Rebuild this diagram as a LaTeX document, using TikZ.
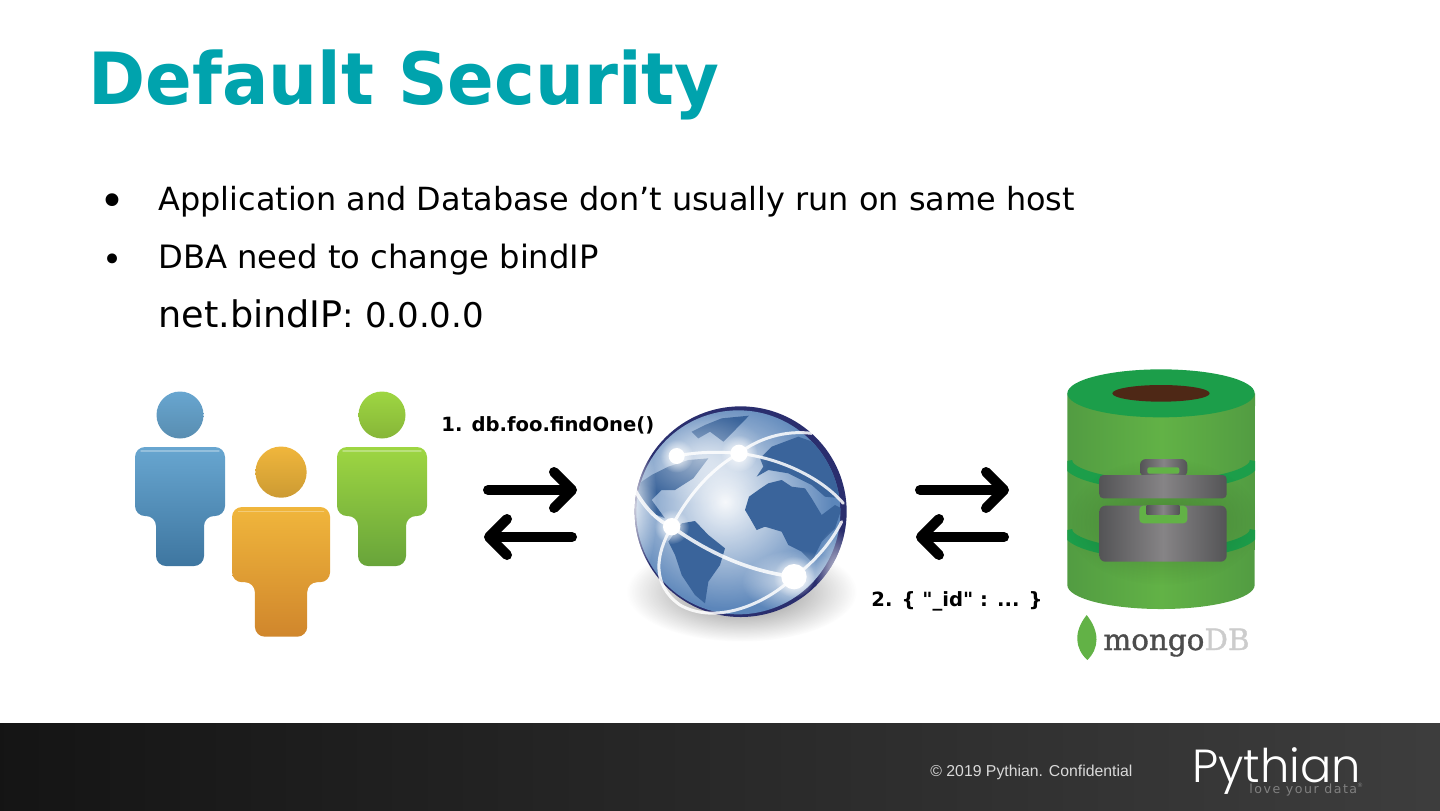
\documentclass[tikz,border=0pt]{standalone}
\usepackage{fontspec}
\usepackage{xcolor}
\setmainfont{DejaVu Sans}
\newfontfamily\titlefont[FakeStretch=0.956]{DejaVu Sans Bold}
\newfontfamily\labelfont{DejaVu Sans Bold}
\newfontfamily\footfont{Liberation Sans}
\newfontfamily\logofont{Poppins Light}
\newfontfamily\logosub[LetterSpace=12]{DejaVu Sans}
\newfontfamily\mongofont[FakeBold=1.2]{DejaVu Serif}
\usetikzlibrary{arrows.meta, fadings}
\definecolor{teal}{RGB}{0,163,173}
\definecolor{navy}{RGB}{42,46,110}
\definecolor{landblue}{RGB}{58,100,155}
\definecolor{seablue}{RGB}{92,134,186}
\definecolor{dbgreen}{RGB}{98,178,70}
\definecolor{dbdark}{RGB}{82,156,66}
\definecolor{ringgreen}{RGB}{28,158,74}
\definecolor{holebrown}{RGB}{78,40,22}
\definecolor{casegray}{RGB}{134,132,134}
\definecolor{casedark}{RGB}{84,84,86}
\definecolor{blueA}{RGB}{104,166,208}
\definecolor{blueB}{RGB}{62,118,160}
\definecolor{orangeA}{RGB}{240,182,60}
\definecolor{orangeB}{RGB}{208,134,44}
\definecolor{greenA}{RGB}{158,214,66}
\definecolor{greenB}{RGB}{104,164,58}
\tikzfading[name=glowfade, inner color=transparent!0, outer color=transparent!100]
\begin{document}
\begin{tikzpicture}[x=0.5pt, y=-0.5pt]
\tikzstyle{slidetext} = [inner sep=0 pt, anchor=base west]
\tikzstyle{heading} = [slidetext, text=teal, font=\titlefont\fontsize{36}{40}\selectfont]
\tikzstyle{bodytext} = [slidetext, font=\fontsize{16}{20}\selectfont]
\tikzstyle{steplabel} = [slidetext, font=\labelfont\fontsize{9.8}{12}\selectfont]
\tikzstyle{bigarrow} = [line width=5 pt, line cap=round, -{Straight Barb[length=9pt, width=18pt, round]}]
\tikzstyle{arcline} = [white, opacity=0.85, line width=1.5 pt, line cap=round]
\tikzstyle{glow} = [white, path fading=glowfade]
\useasboundingbox (0,0) rectangle (1440,810);

\node (title) [heading] at (88,104) {Default Security};
\node (bulletA) [slidetext, anchor=center, font=\fontsize{22}{24}\selectfont] at (112,205) {•};
\node (bulletB) [slidetext, anchor=center, font=\fontsize{17}{20}\selectfont] at (113,263) {•};
\node (lineA) [bodytext, font=\fontsize{15.95}{20}\selectfont] at (158,210) {Application and Database don’t usually run on same host};
\node (lineB) [bodytext, font=\fontsize{16.1}{20}\selectfont] at (158,268) {DBA need to change bindIP};
\node (lineC) [bodytext, font=\fontsize{17}{20}\selectfont] at (158,327) {{\fontsize{18.3}{20}\selectfont net.bindIP}: 0.0.0.0};

\foreach \name/\xpos/\ypos/\size/\colA/\colB in {blue/135/447/1/blueA/blueB, green/337/447/1/greenA/greenB, orange/232/507/1.09/orangeA/orangeB}
{
  \begin{scope}[shift={(\xpos,\ypos)}, scale=\size]
    \shade [top color=\colA, bottom color=\colA!85!black] (45,-32) circle (23.5);
    \shade [top color=\colA, bottom color=\colB, rounded corners=5 pt] (45,0) -- (90,0) -- (90,69) -- (69,69) -- (69,119) -- (21,119) -- (21,69) -- (0,69) -- (0,0) -- cycle;
    \draw [white, opacity=0.3, line width=0.7 pt, line cap=round] (6,4) -- (84,4);
    \coordinate (\name) at (45,60);
  \end{scope}
}

\node (stepA) [steplabel] at (441,431) {1. db.foo.findOne()};
\node (stepB) [steplabel] at (871,606) {2. \{ "\_id" : ... \}};

\coordinate (appOut) at (488,490);
\coordinate (netIn) at (577,490);
\coordinate (netOut) at (572,537);
\coordinate (appIn) at (484,537);
\coordinate (netOutB) at (920,490);
\coordinate (dbIn) at (1009,490);
\coordinate (dbOut) at (1004,537);
\coordinate (netInB) at (916,537);
\draw [bigarrow] (appOut) -- (netIn);
\draw [bigarrow] (netOut) -- (appIn);
\draw [bigarrow] (netOutB) -- (dbIn);
\draw [bigarrow] (dbOut) -- (netInB);

% globe
\begin{scope}[shift={(625,395)}, x=0.16667pt, y=-0.16667pt]
  \fill [black!60, opacity=0.85, path fading=glowfade] (350,590) ellipse (345 and 150);
  \fill [navy] (347,350) ellipse (318 and 316);
  \begin{scope}
    \clip (340,352) ellipse (306 and 306);
    \fill [seablue] (340,352) circle (310);
    \fill [glow, opacity=0.95] (300,320) circle (320);
    \fill [landblue] (360,345) -- (372,305) -- (400,285) -- (430,265) -- (470,255) -- (500,275) -- (540,280) -- (560,310) -- (590,360) -- (630,330) -- (650,340) -- (630,400) -- (590,440) -- (560,500) -- (530,470) -- (490,450) -- (470,410) -- (420,395) -- (395,405) -- (375,370) -- cycle;
    \fill [landblue] (395,245) -- (415,215) -- (405,190) -- (440,155) -- (520,125) -- (590,150) -- (650,260) -- (650,310) -- (600,305) -- (560,270) -- (490,235) -- (430,225) -- cycle;
    \fill [landblue] (200,110) -- (240,90) -- (290,70) -- (372,62) -- (330,105) -- (295,140) -- (255,110) -- (220,130) -- cycle;
    \fill [landblue] (35,270) -- (80,240) -- (130,215) -- (190,195) -- (250,190) -- (205,250) -- (150,285) -- (110,285) -- (80,315) -- (120,370) -- (70,350) -- (35,300) -- cycle;
    \fill [landblue] (130,440) -- (170,385) -- (210,378) -- (250,420) -- (300,460) -- (285,510) -- (250,560) -- (240,625) -- (210,600) -- (170,540) -- (150,480) -- cycle;
    \fill [glow, opacity=0.55] (230,190) ellipse (200 and 140);
    \fill [glow, opacity=0.8] (510,560) ellipse (160 and 95);
  \end{scope}
  \begin{scope}
    \clip (347,350) ellipse (318 and 316);
    \fill [glow, opacity=0.8] (25,330) ellipse (70 and 240);
    \fill [glow, opacity=0.7] (630,530) ellipse (60 and 130);
  \end{scope}
  \draw [arcline, line width=1.8 pt] (30,285) .. controls (60,340) and (100,380) .. (140,395) .. controls (260,480) and (380,530) .. (507,545);
  \draw [arcline] (140,395) .. controls (190,300) and (260,220) .. (342,175) .. controls (400,130) and (480,105) .. (560,115);
  \draw [arcline] (155,183) .. controls (220,170) and (280,170) .. (342,175) .. controls (470,190) and (590,250) .. (655,325);
  \draw [arcline] (140,395) .. controls (90,480) and (80,570) .. (165,630) .. controls (270,690) and (420,630) .. (507,545) .. controls (570,500) and (620,440) .. (650,380);
  \fill [glow] (155,183) circle (50);
  \fill [white] (155,183) circle (24);
  \fill [glow] (342,175) circle (55);
  \fill [white] (342,175) circle (26);
  \fill [glow] (140,395) circle (52);
  \fill [white] (140,395) circle (26);
  \fill [glow] (507,545) circle (62);
  \fill [white] (507,545) circle (38);
\end{scope}

% database
\begin{scope}[shift={(1060,365)}, x=0.16667pt, y=-0.16667pt]
  \shade [left color=dbdark, right color=dbdark, middle color=dbgreen] (22,85) -- (22,660) arc [start angle=180, end angle=0, x radius=281, y radius=72] -- (585,85) -- cycle;
  \begin{scope}
    \clip (22,85) rectangle (585,740);
    \draw [ringgreen, line width=5 pt] (22,288) arc [start angle=180, end angle=0, x radius=281, y radius=72];
    \draw [ringgreen, line width=5 pt] (22,495) arc [start angle=180, end angle=0, x radius=281, y radius=72];
  \end{scope}
  \fill [ringgreen] (303,85) ellipse (281 and 72);
  \fill [holebrown] (303,85) ellipse (146 and 25);
  \fill [black, opacity=0.25, path fading=glowfade] (309,470) ellipse (290 and 190);
  \shade [left color=casedark, right color=casedark, middle color=casegray, rounded corners=3 pt] (240,335) -- (240,282) -- (382,282) -- (382,335) -- cycle;
  \fill [dbgreen, rounded corners=1 pt] (262,307) rectangle (358,326);
  \shade [left color=casedark, right color=casedark, middle color=casegray, rounded corners=2 pt] (118,400) -- (118,330) -- (500,330) -- (500,400) -- cycle;
  \shade [left color=casedark, right color=casedark, middle color=casegray, rounded corners=3 pt] (118,422) -- (500,422) -- (500,590) -- (118,590) -- cycle;
  \fill [dbgreen, rounded corners=2 pt] (238,422) -- (382,422) -- (382,475) -- (238,475) -- cycle;
  \shade [left color=casedark, right color=casedark, middle color=casegray] (260,422) rectangle (358,447);
  \fill [dbgreen] (80,750) .. controls (120,800) and (118,850) .. (82,885) .. controls (44,850) and (40,800) .. (80,750);
\end{scope}
\node (logoDB) [slidetext, font=\mongofont\fontsize{14.7}{18}\selectfont, text=black!70] at (1103,650) {mongo\textcolor{black!20}{DB}};

% footer
\shade [left color=black!92, right color=black!76] (0,723) rectangle (1440,810);
\node (copyright) [slidetext, text=white!85!black, font=\footfont\fontsize{7.9}{10}\selectfont] at (930,776) {© 2019 Pythian. Confidential};
\node (logoName) [slidetext, text=white, font=\logofont\fontsize{23.2}{28}\selectfont] at (1192,782) {Pythian};
\node (logoLine) [slidetext, text=black!50, font=\logosub\fontsize{6.3}{8}\selectfont] at (1249,793) {love your data\raisebox{3 pt}{\fontsize{3}{4}\selectfont ®}};
\end{tikzpicture}
\end{document}
